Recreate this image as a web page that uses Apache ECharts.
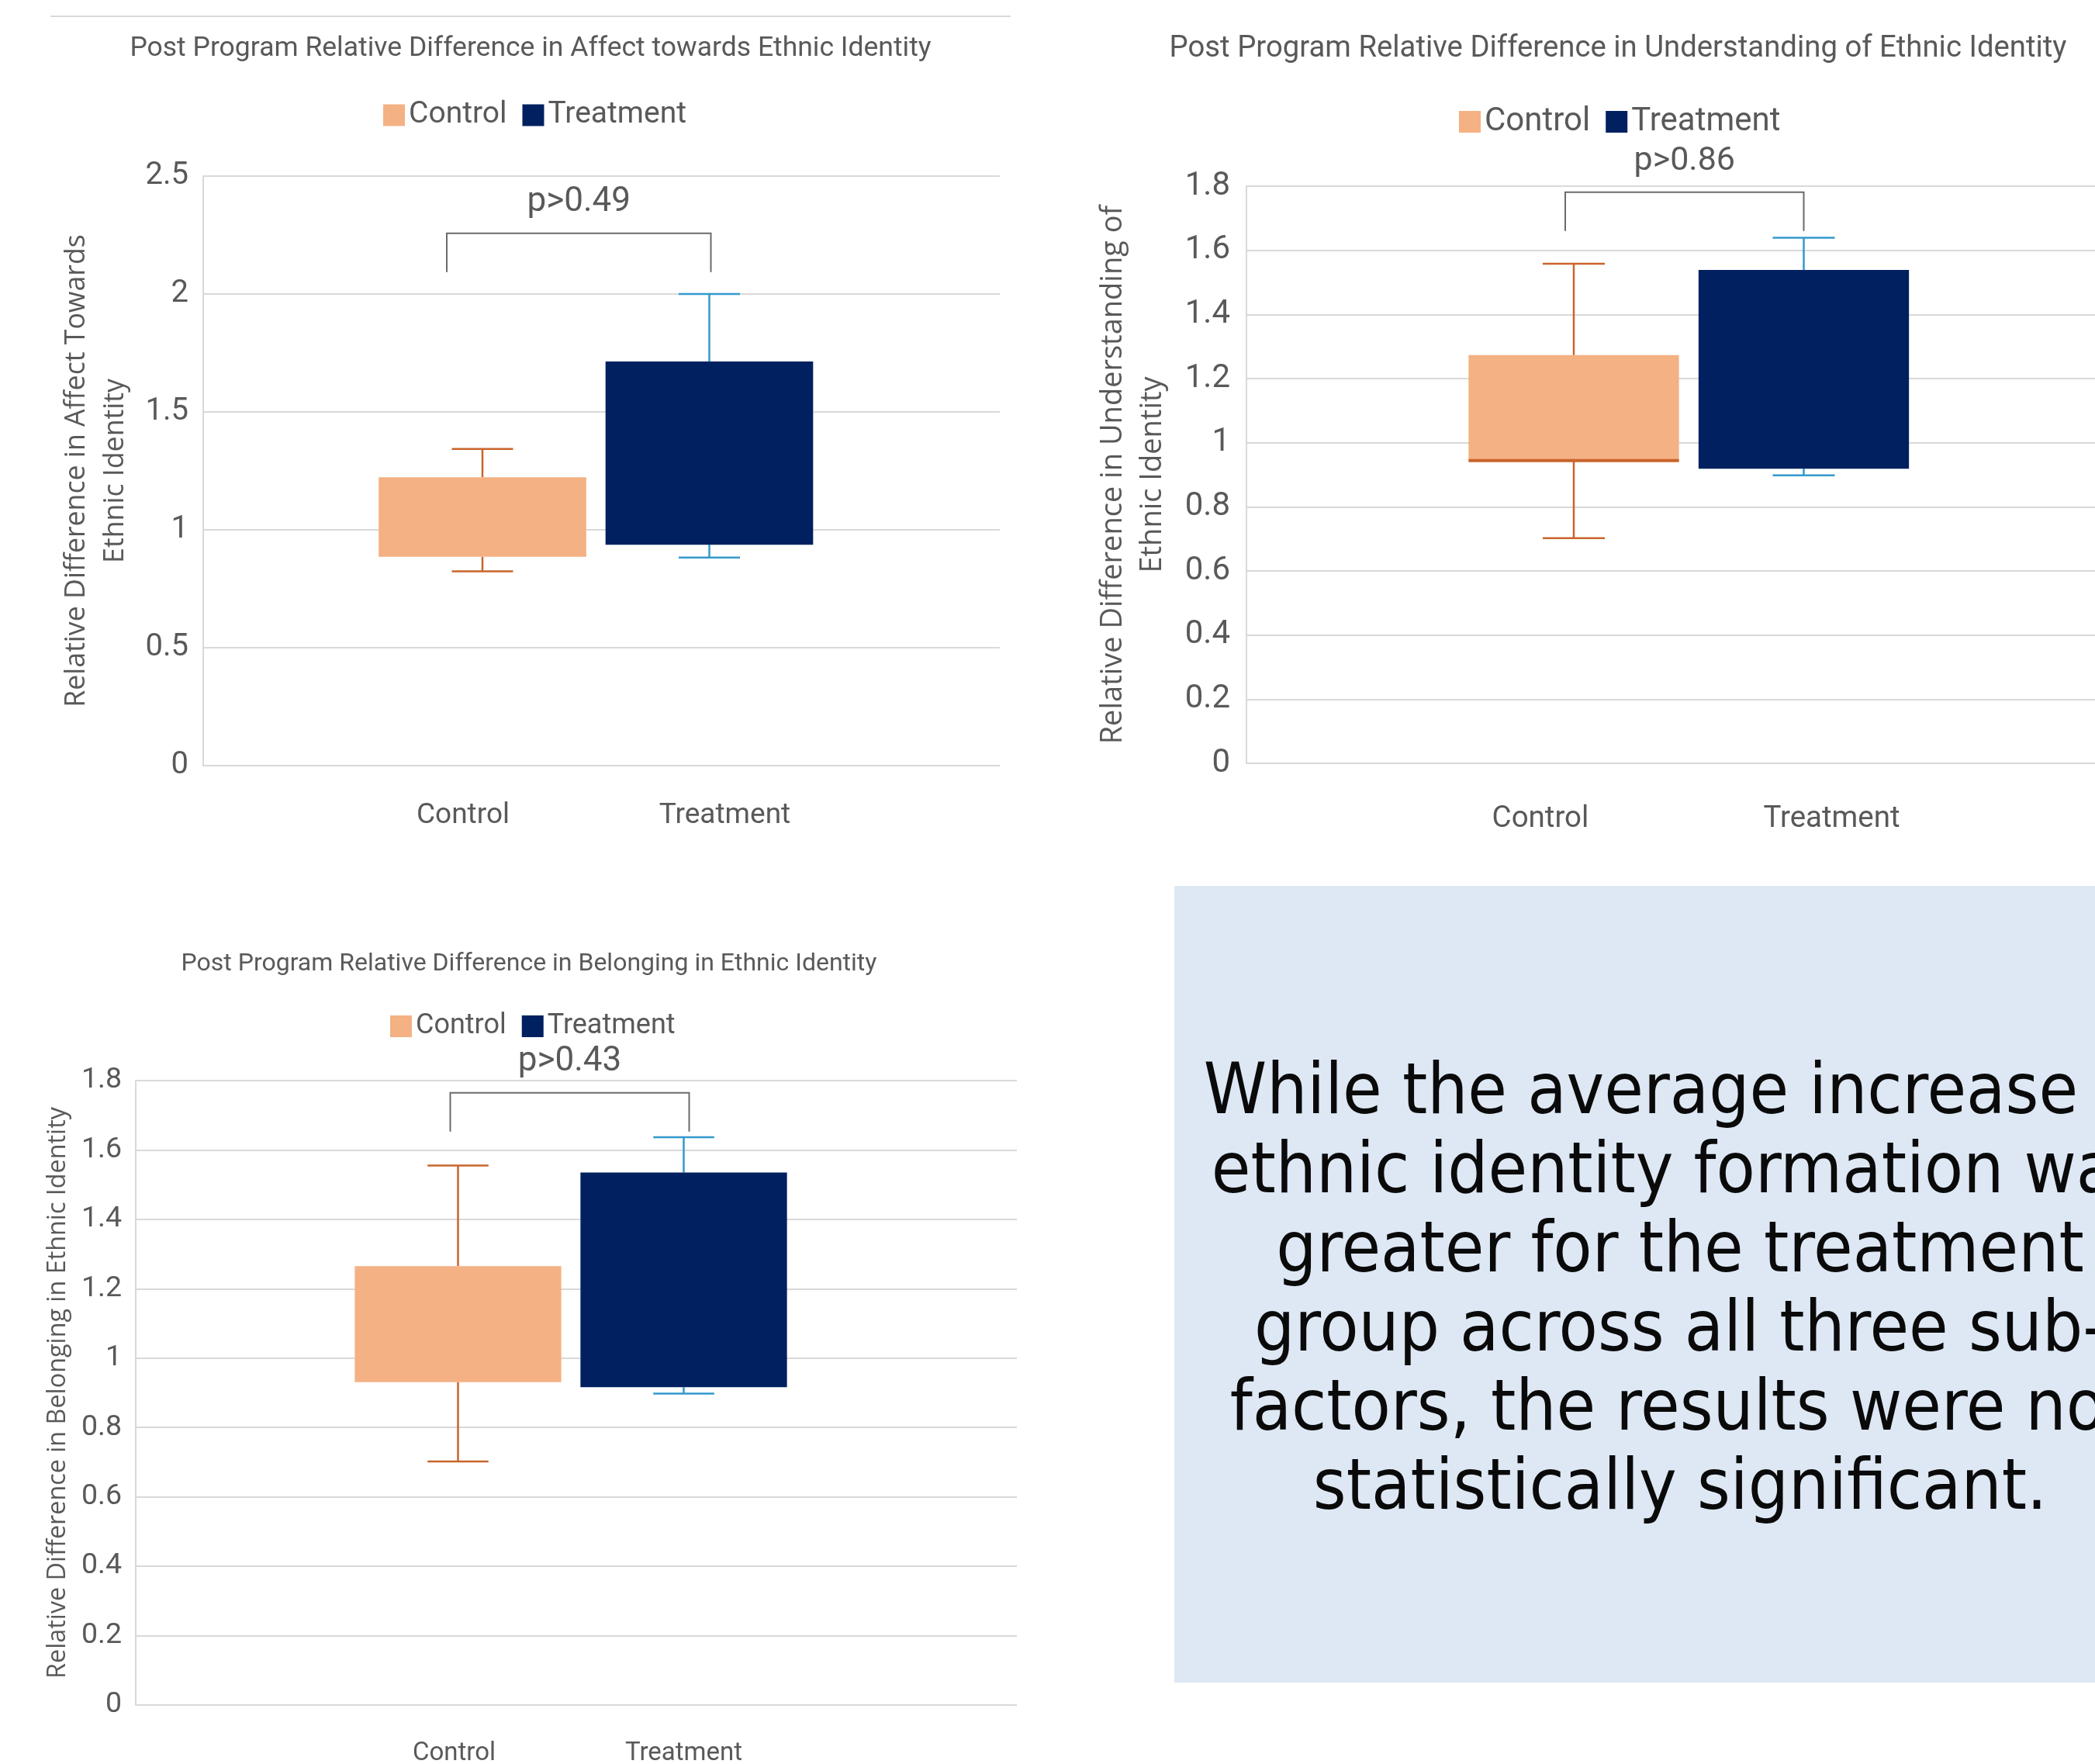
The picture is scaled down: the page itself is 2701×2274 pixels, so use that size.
<!DOCTYPE html>
<html><head><meta charset="utf-8">
<script src="https://cdn.jsdelivr.net/npm/echarts@6/dist/echarts.min.js"></script>
<style>html,body{margin:0;padding:0;background:#fff}#c{width:2701px;height:2274px}</style>
</head><body><div id="c"></div>
<script>
// ---------------- data ----------------
const categories = ['Control', 'Treatment'];
// box statistics: [min, Q1, median, Q3, max]  (null = median line not shown)
const affectControl = [0.824, 0.886, null, 1.223, 1.343];
const affectTreatment = [0.882, 0.937, null, 1.714, 2.0];
const understandingControl = [0.702, 0.944, 0.944, 1.273, 1.558];
const understandingTreatment = [0.898, 0.919, null, 1.539, 1.639];
const belongingControl = [0.702, 0.931, null, 1.265, 1.555];
const belongingTreatment = [0.898, 0.916, null, 1.535, 1.637];
const pLabels = ['p>0.49', 'p>0.86', 'p>0.43'];
const bracketTops = [2.257, 1.781, 1.765];
const yMaxes = [2.5, 1.8, 1.8];
const yIntervals = [0.5, 0.2, 0.2];
const chartTitles = [
  'Post Program Relative Difference in Affect towards Ethnic Identity',
  'Post Program Relative Difference in Understanding of Ethnic Identity',
  'Post Program Relative Difference in Belonging in Ethnic Identity'
];
const yAxisNames = [
  'Relative Difference in Affect Towards\nEthnic Identity',
  'Relative Difference in Understanding of\nEthnic Identity',
  'Relative Difference in Belonging in Ethnic Identity'
];
const summaryLines = [
  'While the average increase in',
  'ethnic identity formation was',
  'greater for the treatment',
  'group across all three sub-',
  'factors, the results were not',
  'statistically significant.'
];

// ---------------- styling / layout ----------------
const CONTROL_FILL = '#F4B183', CONTROL_LINE = '#C9642C';
const TREAT_FILL = '#002060', TREAT_LINE = '#3399CC';
const TEXT = '#595959', GRID = '#D9D9D9';
const FONT = 'Roboto';
const BOX_RATIO = 0.915, CAP_RATIO = 0.27;

const layouts = [
  { plot: {left: 262, top: 227, width: 1027, height: 760}, box: {left: 475.75, width: 585},
    tickFont: 40, tickMargin: 19, nameFont: 35.7, nameGap: 88, nameLH: 50,
    catFont: 37, catMargin: 46, catShift: [-25, 20],
    legend: {left: 489, top: 124, font: 39}, title: {x: 684, y: 63, font: 35.5},
    bracketOff: [-46, 2], pFont: 44 },
  { plot: {left: 1607, top: 240, width: 1200, height: 744}, box: {left: 1880.75, width: 593},
    tickFont: 42, tickMargin: 21, nameFont: 38, nameGap: 95, nameLH: 51,
    catFont: 38.5, catMargin: 53, catShift: [-43, 36],
    legend: {left: 1876, top: 131, font: 42}, title: {x: 2086, y: 63, font: 38.3},
    bracketOff: [-11, 0], pFont: 43 },
  { plot: {left: 175, top: 1393, width: 1136, height: 805}, box: {left: 445, width: 582},
    tickFont: 37.5, tickMargin: 18, nameFont: 32.3, nameGap: 78, nameLH: 44,
    catFont: 33, catMargin: 46, catShift: [-5, 0],
    legend: {left: 498, top: 1300, font: 36}, title: {x: 682, y: 1243, font: 32},
    bracketOff: [-10, 7], pFont: 44 }
];
const boxStats = [
  [affectControl, affectTreatment],
  [understandingControl, understandingTreatment],
  [belongingControl, belongingTreatment]
];

function makeBoxRender(fill, line) {
  return function (params, api) {
    const c = api.value(0);
    const mn = api.value(1), q1 = api.value(2), md = api.value(3), q3 = api.value(4), mx = api.value(5);
    const band = api.size([1, 0])[0];
    const cx = api.coord([c, q1])[0];
    const y = v => api.coord([c, v])[1];
    const w = band * BOX_RATIO, cw = band * CAP_RATIO;
    const ls = {stroke: line, lineWidth: 2.5, fill: null};
    const children = [
      {type: 'line', shape: {x1: cx, y1: y(mx), x2: cx, y2: y(q3)}, style: ls},
      {type: 'line', shape: {x1: cx - cw / 2, y1: y(mx), x2: cx + cw / 2, y2: y(mx)}, style: ls},
      {type: 'line', shape: {x1: cx, y1: y(q1), x2: cx, y2: y(mn)}, style: ls},
      {type: 'line', shape: {x1: cx - cw / 2, y1: y(mn), x2: cx + cw / 2, y2: y(mn)}, style: ls},
      {type: 'rect', shape: {x: cx - w / 2, y: y(q3), width: w, height: y(q1) - y(q3)}, style: {fill: fill}}
    ];
    if (md != null && !isNaN(md)) {
      children.push({type: 'line', shape: {x1: cx - w / 2, y1: y(md), x2: cx + w / 2, y2: y(md)},
        style: {stroke: line, lineWidth: 4}});
    }
    return {type: 'group', children: children};
  };
}

function makeBracketRender(label, off, fontSize) {
  return function (params, api) {
    const top = api.value(1);
    const p0 = api.coord([0, top]);
    const p1 = api.coord([1, top]);
    const yT = p0[1], xL = p0[0] + off[0], xR = p1[0] + off[1];
    return {type: 'group', children: [
      {type: 'polyline', shape: {points: [[xL, yT + 50], [xL, yT], [xR, yT], [xR, yT + 50]]},
        style: {stroke: '#6B6B6B', lineWidth: 2, fill: null}},
      {type: 'text', x: (xL + xR) / 2, y: yT - 40,
        style: {text: label, align: 'center', verticalAlign: 'middle', fontSize: fontSize,
          fontFamily: FONT, fill: TEXT}}
    ]};
  };
}

const grid = [], xAxis = [], yAxis = [], series = [], legend = [], graphic = [];

layouts.forEach((L, i) => {
  const gPlot = grid.length;
  grid.push(Object.assign({outerBoundsMode: 'none', containLabel: false}, L.plot));
  grid.push({outerBoundsMode: 'none', containLabel: false, left: L.box.left, width: L.box.width,
    top: L.plot.top, height: L.plot.height});
  const gBox = gPlot + 1;

  xAxis.push({gridIndex: gPlot, type: 'value', show: false, min: 0, max: 1});
  xAxis.push({gridIndex: gBox, type: 'category', data: categories,
    axisLine: {show: false}, axisTick: {show: false}, splitLine: {show: false},
    axisLabel: {interval: 0, margin: L.catMargin, color: TEXT, fontSize: L.catFont, fontFamily: FONT,
      formatter: v => '{' + (v === 'Control' ? 'a' : 'b') + '|' + v + '}',
      rich: {
        a: {fontSize: L.catFont, fontFamily: FONT, color: TEXT,
            padding: [0, Math.max(0, -2 * L.catShift[0]), 0, Math.max(0, 2 * L.catShift[0])]},
        b: {fontSize: L.catFont, fontFamily: FONT, color: TEXT,
            padding: [0, Math.max(0, -2 * L.catShift[1]), 0, Math.max(0, 2 * L.catShift[1])]}
      }}});

  yAxis.push({gridIndex: gPlot, type: 'value', min: 0, max: yMaxes[i], interval: yIntervals[i],
    axisLine: {show: true, lineStyle: {color: GRID, width: 2}},
    axisTick: {show: false},
    splitLine: {show: true, lineStyle: {color: GRID, width: 2}},
    axisLabel: {color: TEXT, fontSize: L.tickFont, fontFamily: FONT, margin: L.tickMargin},
    name: yAxisNames[i], nameLocation: 'middle', nameRotate: 90, nameGap: L.nameGap,
    nameTextStyle: {color: TEXT, fontSize: L.nameFont, fontFamily: 'Open Sans', lineHeight: L.nameLH}});
  yAxis.push({gridIndex: gBox, type: 'value', min: 0, max: yMaxes[i], show: false,
    splitLine: {show: false}});

  const xi = xAxis.length - 1, yi = yAxis.length - 1;
  const [ctrl, trt] = boxStats[i];
  series.push({type: 'custom', name: 'Control', xAxisIndex: xi, yAxisIndex: yi,
    itemStyle: {color: CONTROL_FILL}, encode: {x: 0, y: [1, 2, 4, 5]},
    renderItem: makeBoxRender(CONTROL_FILL, CONTROL_LINE), data: [[0].concat(ctrl)]});
  series.push({type: 'custom', name: 'Treatment', xAxisIndex: xi, yAxisIndex: yi,
    itemStyle: {color: TREAT_FILL}, encode: {x: 0, y: [1, 2, 4, 5]},
    renderItem: makeBoxRender(TREAT_FILL, TREAT_LINE), data: [[1].concat(trt)]});
  series.push({type: 'custom', name: 'pvalue' + i, xAxisIndex: xi, yAxisIndex: yi,
    encode: {x: 0, y: 1}, silent: true,
    renderItem: makeBracketRender(pLabels[i], L.bracketOff, L.pFont), data: [[0, bracketTops[i]]]});

  legend.push({data: categories, left: L.legend.left, top: L.legend.top, icon: 'rect',
    itemWidth: 28, itemHeight: 28, itemGap: 20, selectedMode: false,
    textStyle: {color: TEXT, fontSize: L.legend.font, fontFamily: FONT}});

  graphic.push({type: 'text', x: L.title.x, y: L.title.y,
    style: {text: chartTitles[i], align: 'center', verticalAlign: 'middle',
      fontSize: L.title.font, fontFamily: FONT, fill: TEXT}});
});

graphic.push({type: 'line', shape: {x1: 65, y1: 21, x2: 1303, y2: 21}, style: {stroke: GRID, lineWidth: 2}});
graphic.push({type: 'rect', shape: {x: 1514, y: 1142, width: 1300, height: 1027}, style: {fill: '#DEE8F4'}});
graphic.push({type: 'text', x: 2166, y: 1666,
  style: {text: summaryLines.join('\n'), align: 'center', verticalAlign: 'middle',
    fontSize: 91.5, lineHeight: 102, fontFamily: 'DejaVu Sans Condensed', fill: '#0A0A0A'}});

const chart = echarts.init(document.getElementById('c'), null, {renderer: 'canvas'});
chart.setOption({
  animation: false,
  backgroundColor: '#ffffff',
  grid, xAxis, yAxis, series, legend, graphic
});
</script></body></html>
